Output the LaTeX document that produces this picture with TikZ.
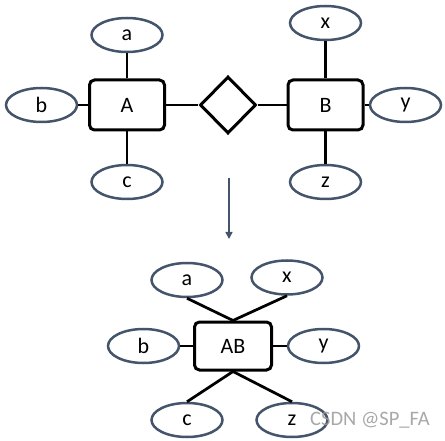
\documentclass[tikz,border=0pt]{standalone}
\usepackage{fontspec}
\setmainfont{Carlito}
\usetikzlibrary{positioning,shapes.geometric,arrows.meta}
\definecolor{slate}{HTML}{44546A}
\begin{document}
\begin{tikzpicture}[x=1pt, y=-1pt,
    attr/.style = {draw=slate, ellipse, line width=2.5pt, fill=white, inner sep=0pt,
      minimum width=71pt, minimum height=34pt, font=\fontsize{22}{24}\selectfont},
    ent/.style = {draw, rounded corners=5pt, line width=3pt, fill=white, inner sep=0pt,
      minimum width=75pt, minimum height=50pt, font=\fontsize{22}{24}\selectfont},
    rel/.style = {draw, diamond, line width=3pt, inner sep=0pt,
      minimum width=56pt, minimum height=57pt},
    edge/.style = {line width=2.75pt}]
        \useasboundingbox (0,0) rectangle (445,441);
        % before
        \node[ent] (A) at (127,105) {A};
        \node[attr] (a) [above=25.25pt of A] {a};
        \node[attr] (b) [left=9.75pt of A] {b};
        \node[attr] (c) [below=32.25pt of A] {c};
        \node[rel] (R) [right=32.5pt of A] {};
        \node[ent] (B) [right=29pt of R] {B};
        \node[attr] (x) [above=37.25pt of B] {x};
        \node[attr] (y) [right=4.25pt of B] {y};
        \node[attr] (z) [below=32.25pt of B] {z};
        %
        \draw[edge] (A) -- (a);
        \draw[edge] (A) -- (b);
        \draw[edge] (A) -- (c);
        \draw[edge] (A) -- (R);
        \draw[edge] (R) -- (B);
        \draw[edge] (B) -- (x);
        \draw[edge] (B) -- (y);
        \draw[edge] (B) -- (z);
        %
        \coordinate (top) at (229,178);
        \coordinate (bot) at (229,239);
        \draw[slate, line width=1.5pt, -{Triangle[length=7pt,width=7pt]}] (top) -- (bot);
        % after
        \node[ent, minimum width=77pt, minimum height=48pt] (AB) at (233,346) {AB};
        \node[attr] (a2) [above=22.25pt of AB, xshift=-46pt] {a};
        \node[attr] (x2) [above=24.75pt of AB, xshift=54pt] {x};
        \node[attr] (b2) [left=12.75pt of AB] {b};
        \node[attr] (y2) [right=13.75pt of AB] {y};
        \node[attr] (c2) [below=30.25pt of AB, xshift=-46pt] {c};
        \node[attr] (z2) [below=30.25pt of AB, xshift=59pt] {z};
        %
        \draw[edge] (a2.south) -- (AB.north);
        \draw[edge] (x2.south) -- (AB.north);
        \draw[edge] (AB) -- (b2);
        \draw[edge] (AB) -- (y2);
        \draw[edge] (AB.south) -- (c2.north);
        \draw[edge] (AB.south) -- (z2.north);
        %
        \node[text=black!40, text opacity=0.85, font=\fontsize{20.5}{24}\selectfont] (wm) at (370,420) {CSDN @SP\_FA};
\end{tikzpicture}
\end{document}
